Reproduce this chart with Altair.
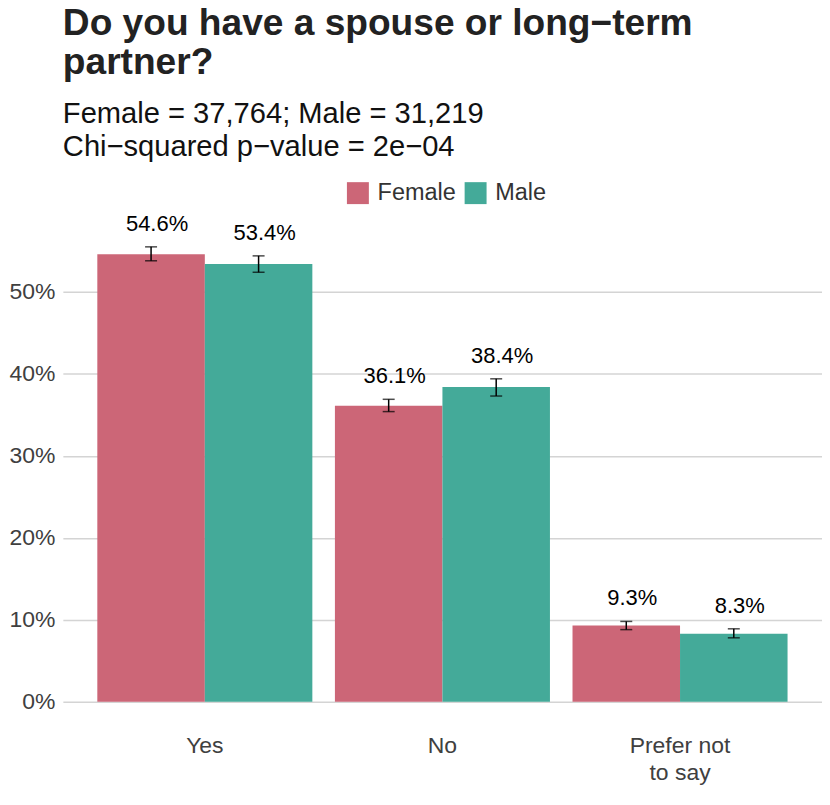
import altair as alt
import pandas as pd

categories = ["Yes", "No", "Prefer not to say"]
groups = ["Female", "Male"]
female_pct = [54.6, 36.1, 9.3]
male_pct = [53.4, 38.4, 8.3]
female_lo = [53.8, 35.4, 8.8]
female_hi = [55.5, 36.9, 9.8]
male_lo = [52.4, 37.3, 7.8]
male_hi = [54.4, 39.4, 8.9]
colors = ["#CC6677", "#44AA99"]
y_ticks = [0, 0.1, 0.2, 0.3, 0.4, 0.5]

rows = []
for i, c in enumerate(categories):
    rows.append(dict(answer=c, gender="Female", pct=female_pct[i] / 100,
                     lo=female_lo[i] / 100, hi=female_hi[i] / 100,
                     label=f"{female_pct[i]:.1f}%"))
    rows.append(dict(answer=c, gender="Male", pct=male_pct[i] / 100,
                     lo=male_lo[i] / 100, hi=male_hi[i] / 100,
                     label=f"{male_pct[i]:.1f}%"))
df = pd.DataFrame(rows)

FONT = "Liberation Sans"

x_enc = alt.X(
    "answer:N", sort=categories, title=None,
    scale=alt.Scale(paddingInner=0.095, paddingOuter=0.145),
    axis=alt.Axis(
        labelAngle=0, labelFontSize=23, labelColor="#404040", labelPadding=33,
        ticks=False, tickSize=0, domain=False, grid=False, labelLineHeight=27,
        labelExpr="datum.value == 'Prefer not to say' ? ['Prefer not', 'to say'] : datum.value",
    ),
)
xoff = alt.XOffset("gender:N", sort=groups, scale=alt.Scale(paddingInner=0, paddingOuter=0))
y_scale = alt.Scale(domain=[0, 0.6], nice=False)

base = alt.Chart(df)

bars = base.mark_bar().encode(
    x=x_enc,
    xOffset=xoff,
    y=alt.Y("pct:Q", scale=y_scale, title=None,
            axis=alt.Axis(values=y_ticks, format=".0%", labelFontSize=23,
                          labelColor="#404040", labelPadding=8, ticks=False,
                          tickSize=0, domain=False, grid=True,
                          gridColor="#d4d4d4", gridWidth=1.5)),
    color=alt.Color("gender:N", sort=groups,
                    scale=alt.Scale(domain=groups, range=colors),
                    legend=alt.Legend(
                        title=None, orient="none", direction="horizontal",
                        legendX=284, legendY=-29, padding=0,
                        symbolType="square", symbolSize=484, symbolStrokeWidth=0,
                        symbolOpacity=1, labelFontSize=23.5, labelColor="#333333",
                        labelOffset=8, columnPadding=8)),
)

rule = base.mark_rule(color="black", strokeWidth=1.5).encode(
    x=alt.X("answer:N", sort=categories), xOffset=xoff,
    y=alt.Y("lo:Q", scale=y_scale), y2="hi:Q",
)
cap_lo = base.mark_tick(color="black", thickness=1.5, size=12).encode(
    x=alt.X("answer:N", sort=categories), xOffset=xoff,
    y=alt.Y("lo:Q", scale=y_scale),
)
cap_hi = base.mark_tick(color="black", thickness=1.5, size=12).encode(
    x=alt.X("answer:N", sort=categories), xOffset=xoff,
    y=alt.Y("hi:Q", scale=y_scale),
)
text = base.mark_text(fontSize=22, color="black", dx=6, dy=-23, baseline="middle").encode(
    x=alt.X("answer:N", sort=categories), xOffset=xoff,
    y=alt.Y("hi:Q", scale=y_scale), text="label:N",
)

chart = alt.layer(bars, rule, cap_lo, cap_hi, text).properties(
    width=761, height=493,
    autosize=alt.AutoSizeParams(type="none"),
    padding={"left": 55, "top": 201.5, "right": 0, "bottom": 90},
    title=alt.TitleParams(
        text=["Do you have a spouse or long\u2212term", "partner?"],
        subtitle=["Female = 37,764; Male = 31,219", "Chi\u2212squared p\u2212value = 2e\u221204"],
        anchor="start", frame="group", fontSize=37.2, fontWeight="bold",
        lineHeight=38.5, color="#222222", subtitleFontSize=29.2,
        subtitleLineHeight=33, subtitleColor="#111111", subtitlePadding=18,
        offset=18,
    ),
).configure(font=FONT).configure_view(stroke=None)

chart.save("out.html", embed_options={"renderer": "svg", "actions": False})
